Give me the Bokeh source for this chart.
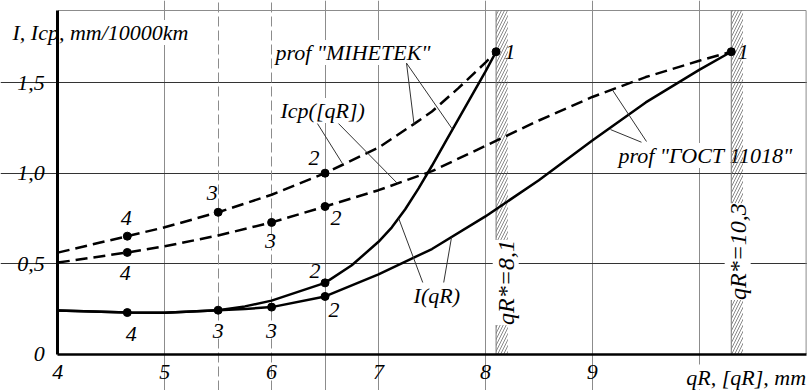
import math
from bokeh.plotting import figure
from bokeh.models import Label, FixedTicker, Grid, Range1d
from bokeh.embed import file_html
from bokeh.resources import INLINE

# ---------------- data ----------------
x_ticks = [4, 5, 6, 7, 8, 9]
x_tick_labels = ["4", "5", "6", "7", "8", "9"]
y_ticks = [0, 0.5, 1.0, 1.5]
y_tick_labels = ["0", "0,5", "1,0", "1,5"]
grid_x_solid = [5, 6.5, 7, 8, 9, 10]
grid_x_dashed = [5.5, 6]
grid_y = [0.5, 1.0, 1.5]
qr_limits = [8.1, 10.3]
qr_limit_labels = ["qR*=8,1", "qR*=10,3"]

# prof "MIHETEK", Icp([qR]) (upper dashed)
mih_icp_x = [4.0, 4.65, 5.0, 5.5, 6.0, 6.5, 7.0, 7.33, 7.5, 7.75, 8.0, 8.1]
mih_icp_y = [0.56, 0.651, 0.70, 0.783, 0.88, 0.999, 1.14, 1.27, 1.34, 1.47, 1.61, 1.67]
# prof "GOST 11018", Icp([qR]) (lower dashed)
gost_icp_x = [4.0, 4.65, 5.0, 5.5, 6.0, 6.5, 7.0, 7.5, 8.0, 8.5, 9.0, 9.5, 10.0, 10.3]
gost_icp_y = [0.505, 0.561, 0.595, 0.655, 0.727, 0.815, 0.905, 1.01, 1.15, 1.29, 1.42, 1.53, 1.62, 1.67]
# prof "MIHETEK", I(qR) (upper solid)
mih_i_x = [4.0, 4.65, 5.0, 5.5, 5.75, 6.0, 6.5, 6.75, 7.0, 7.125, 7.25, 7.375, 7.5,
           7.625, 7.75, 7.875, 8.0, 8.1]
mih_i_y = [0.24, 0.229, 0.228, 0.242, 0.263, 0.295, 0.393, 0.49, 0.62, 0.70, 0.80, 0.915,
           1.04, 1.17, 1.30, 1.43, 1.56, 1.67]
# prof "GOST 11018", I(qR) (lower solid)
gost_i_x = [4.0, 4.65, 5.0, 5.5, 5.75, 6.0, 6.5, 7.0, 7.5, 8.0, 8.5, 9.0, 9.5, 10.0, 10.3]
gost_i_y = [0.24, 0.229, 0.228, 0.242, 0.249, 0.259, 0.318, 0.44, 0.58, 0.76, 0.96, 1.18, 1.39, 1.57, 1.67]

# marked points (numbers 4,3,2,1)
mih_icp_pts_x = [4.65, 5.5, 6.5, 8.1]
mih_icp_pts_y = [0.651, 0.783, 0.999, 1.67]
gost_icp_pts_x = [4.65, 6.0, 6.5, 10.3]
gost_icp_pts_y = [0.561, 0.727, 0.815, 1.67]
mih_i_pts_x = [4.65, 5.5, 6.5]
mih_i_pts_y = [0.229, 0.242, 0.393]
gost_i_pts_x = [6.0, 6.5]
gost_i_pts_y = [0.259, 0.318]
mih_icp_nums = ["4", "3", "2", "1"]
gost_icp_nums = ["4", "3", "2", "1"]
mih_i_nums = ["4", "3", "2"]
gost_i_nums = ["3", "2"]

# ---------------- figure ----------------
W, H = 807, 390
SX, SY = 106.9, 181.0          # px per data unit
X0 = 4 - 57.3 / SX
X1 = X0 + W / SX
Y1 = 353.5 / SY
Y0 = Y1 - H / SY
YTOP = 343.5 / SY              # top border of the chart box
XRIGHT = 11.0                  # right border of the chart box

p = figure(width=W, height=H, x_range=Range1d(X0, X1), y_range=Range1d(Y0, Y1),
           output_backend="svg", toolbar_location=None,
           min_border_left=0, min_border_right=0, min_border_top=0, min_border_bottom=0)
p.background_fill_color = "white"
p.border_fill_color = "white"
p.outline_line_color = None

FONT = "Liberation Serif"

# axes (fixed at x=4 and y=0)
p.xaxis.fixed_location = 0
p.yaxis.fixed_location = 4
p.xaxis.bounds = (4, XRIGHT)
p.yaxis.bounds = (0, YTOP)
p.xaxis.ticker = FixedTicker(ticks=x_ticks)
p.xaxis.major_label_overrides = {t: s for t, s in zip(x_ticks, x_tick_labels)}
p.yaxis.ticker = FixedTicker(ticks=y_ticks)
p.yaxis.major_label_overrides = {t: s for t, s in zip(y_ticks, y_tick_labels)}
for ax in (p.xaxis, p.yaxis):
    ax.axis_line_color = "black"
    ax.major_tick_out = 0
    ax.major_tick_in = 0
    ax.minor_tick_out = 0
    ax.minor_tick_in = 0
    ax.major_label_text_font = FONT
    ax.major_label_text_font_style = "italic"
    ax.major_label_text_font_size = "22px"
    ax.major_label_text_color = "black"
p.xaxis.major_label_standoff = 11
p.yaxis.major_label_standoff = 13
p.xaxis.axis_line_width = 2.5
p.yaxis.axis_line_width = 3

# grids
p.xgrid.ticker = FixedTicker(ticks=grid_x_solid)
p.xgrid.bounds = (0, YTOP)
p.xgrid.grid_line_color = "#8c8c8c"
p.xgrid.grid_line_width = 1
p.ygrid.ticker = FixedTicker(ticks=grid_y)
p.ygrid.bounds = (4, XRIGHT)
p.ygrid.grid_line_color = "#333333"
p.ygrid.grid_line_width = 1
g2 = Grid(dimension=0, ticker=FixedTicker(ticks=grid_x_dashed), bounds=(0, YTOP),
          grid_line_color="#8c8c8c", grid_line_width=1, grid_line_dash="10 4")
p.add_layout(g2)

# chart box border (top and right)
p.segment(x0=[4, XRIGHT], y0=[YTOP, 0], x1=[XRIGHT, XRIGHT], y1=[YTOP, YTOP],
          line_color="#8c8c8c", line_width=1)

# hatched limit strips
p.quad(left=qr_limits, right=[v + 0.11 for v in qr_limits], bottom=0, top=YTOP,
       fill_color=None, line_color=None, hatch_pattern="/", hatch_color="#555555",
       hatch_scale=6, hatch_weight=0.7)
p.segment(x0=qr_limits, y0=0, x1=qr_limits, y1=YTOP, line_color="#777777", line_width=1)

# curves
p.line(mih_icp_x, mih_icp_y, line_color="black", line_width=2.5, line_dash="12 6")
p.line(gost_icp_x, gost_icp_y, line_color="black", line_width=2.5, line_dash="12 6")
p.line(mih_i_x, mih_i_y, line_color="black", line_width=2.5)
p.line(gost_i_x, gost_i_y, line_color="black", line_width=2.5)

for xs, ys in ((mih_icp_pts_x, mih_icp_pts_y), (gost_icp_pts_x, gost_icp_pts_y),
               (mih_i_pts_x, mih_i_pts_y), (gost_i_pts_x, gost_i_pts_y)):
    p.scatter(xs, ys, marker="circle", size=8, fill_color="black", line_color="black")


def txt(s, x, y, dx=0, dy=0, align="center", base="middle", size="22px", angle=0,
        level="underlay"):
    lb = Label(x=x, y=y, x_offset=dx, y_offset=dy, text=s, text_font=FONT,
               text_font_style="italic", text_font_size=size, text_align=align,
               text_baseline=base, text_color="black", angle=angle,
               background_fill_color="white", level=level)
    p.add_layout(lb)


# point numbers
offs = [(-1, 18), (-6, 19), (-11, 15), (14, 0)]
for x, y, n, (dx, dy) in zip(mih_icp_pts_x, mih_icp_pts_y, mih_icp_nums, offs):
    txt(n, x, y, dx, dy)
offs = [(-2, -21), (-1, -19), (11, -12), (12, 0)]
for x, y, n, (dx, dy) in zip(gost_icp_pts_x, gost_icp_pts_y, gost_icp_nums, offs):
    txt(n, x, y, dx, dy)
offs = [(4, -21), (0, -21), (-10, 12)]
for x, y, n, (dx, dy) in zip(mih_i_pts_x, mih_i_pts_y, mih_i_nums, offs):
    txt(n, x, y, dx, dy)
offs = [(0, -24), (9, -14)]
for x, y, n, (dx, dy) in zip(gost_i_pts_x, gost_i_pts_y, gost_i_nums, offs):
    txt(n, x, y, dx, dy)

# axis titles
txt("I, Icp, mm/10000km", 3.576, 1.776, align="left")
txt("qR, [qR], mm", 11.0, 0, dy=-23, align="right", base="middle")

# curve annotations + leader lines
txt('prof "MIHETEK"', 6.036, 1.666, align="left")
txt("Icp([qR])", 6.083, 1.345, align="left")
txt("I(qR)", 7.328, 0.323, align="left")
txt('prof "ГОСТ 11018"', 9.245, 1.097, align="left")

lead_x0 = [7.262, 7.262, 6.429, 6.626, 7.414, 7.61, 9.507, 9.46]
lead_y0 = [1.607, 1.607, 1.273, 1.273, 0.395, 0.395, 1.174, 1.17]
lead_x1 = [7.333, 7.689, 6.663, 7.178, 7.189, 7.683, 9.187, 9.17]
lead_y1 = [1.267, 1.244, 1.052, 0.942, 0.749, 0.644, 1.46, 1.24]
p.segment(x0=lead_x0, y0=lead_y0, x1=lead_x1, y1=lead_y1, line_color="#333333", line_width=1)

# vertical limit labels
txt(qr_limit_labels[0], qr_limits[0] + 0.09, 0.395, size="24px", angle=math.pi / 2,
    level="annotation")
txt(qr_limit_labels[1], qr_limits[1] + 0.06, 0.566, size="24px", angle=math.pi / 2,
    level="annotation")

open("out.html", "w").write(file_html(p, INLINE))
